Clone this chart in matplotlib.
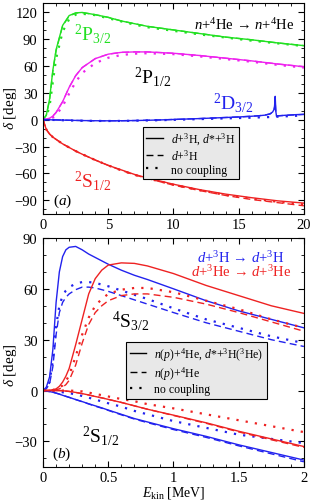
import matplotlib
matplotlib.use("Agg")
import matplotlib.pyplot as plt
from matplotlib.ticker import MultipleLocator
from matplotlib.lines import Line2D

plt.rcParams['font.family'] = ['Liberation Serif', 'DejaVu Serif']
plt.rcParams['mathtext.fontset'] = 'custom'
plt.rcParams['mathtext.rm'] = 'Liberation Serif'
plt.rcParams['mathtext.it'] = 'Liberation Serif:italic'
plt.rcParams['mathtext.bf'] = 'Liberation Serif:bold'
plt.rcParams['mathtext.fallback'] = 'stix'

# ---------------- Panel (a): n+4He ----------------
E_a = [0, 0.25, 0.5, 0.75, 1, 1.5, 2, 2.5, 3, 4, 5, 6, 7, 8, 10, 12, 14, 16, 18, 20]
p32_full = [0, 5, 23, 55, 78, 105, 116, 119, 119.5, 117, 114, 110, 107, 104, 100, 96, 92, 89, 85.5, 82.5]
p32_dash = [0, 5, 22, 54, 77, 104.5, 115.5, 118.8, 119.3, 117, 114, 110, 107, 104, 100, 96, 92, 89, 85.5, 82.5]
p32_none = [0, 3, 15, 42, 68, 98, 112, 117, 118, 116.5, 113, 109.5, 106, 103, 99, 95, 91.5, 88, 85, 82]
p12_full = [0, 0.5, 1.5, 4, 8, 20, 36, 49, 58, 68, 73, 75, 75.5, 75.5, 74, 71.5, 68.5, 65.5, 62, 59]
p12_dash = [0, 0.5, 1.5, 4, 8, 20, 36, 49, 58, 68, 73, 75, 75.5, 75.5, 74, 71.5, 68.5, 65.5, 62, 59]
p12_none = [0, 0.3, 1, 2.5, 5, 15, 29, 42, 52, 63, 69, 72, 73.5, 74, 73, 70.5, 67.5, 64.5, 61, 58]
s12_full = [0, -11, -16, -19.5, -22, -27, -31, -35, -38.5, -45, -51, -56, -61, -65, -72, -78, -83, -87, -90.5, -93]
s12_dash = [0, -11, -16, -19.5, -22, -27, -31, -35, -38.5, -45, -51, -56.5, -61.5, -65.5, -73, -79, -84.5, -89, -92.5, -96]
s12_none = [0, -11, -16, -19.5, -22, -27, -31, -35, -38.5, -45, -51, -56.5, -61.5, -65.5, -72.5, -78.5, -84, -88, -91.5, -94.5]

E_d = [0, 1, 2, 3, 4, 5, 6, 7, 8, 9, 10, 11, 12, 13, 14, 15, 16, 16.5, 17, 17.4, 17.6, 17.7, 17.75, 17.8, 17.85, 17.9, 18.0, 18.3, 19, 20]
d32_full = [0, -0.3, -0.7, -1.0, -1.2, -1.3, -1.2, -1.0, -0.7, -0.3, 0.2, 0.7, 1.2, 1.8, 2.4, 3.0, 3.8, 4.3, 5.0, 6.5, 8.5, 11, 15, 26, 9, 4.0, 4.3, 4.6, 5.3, 6.0]
d32_dash = [0, -0.3, -0.7, -1.0, -1.2, -1.3, -1.2, -1.0, -0.7, -0.3, 0.2, 0.7, 1.2, 1.8, 2.4, 3.0, 3.8, 4.3, 5.0, 6.3, 8.0, 10, 13, 20, 8, 4.0, 4.2, 4.5, 5.1, 5.8]
d32_none = [0, -0.4, -0.9, -1.2, -1.4, -1.5, -1.4, -1.2, -0.9, -0.6, -0.2, 0.2, 0.6, 1.0, 1.4, 1.8, 2.2, 2.5, 2.7, 2.9, 3.0, 3.0, 3.1, 3.1, 3.1, 3.2, 3.3, 3.5, 4.0, 4.8]

# ---------------- Panel (b): d+3H / d+3He ----------------
E_b = [0, 0.025, 0.05, 0.075, 0.1, 0.125, 0.15, 0.175, 0.2, 0.25, 0.3, 0.35, 0.4, 0.45, 0.5,
       0.6, 0.7, 0.8, 1.0, 1.25, 1.5, 1.75, 2.0]
t_s32_full = [0, 2, 8, 24, 52, 70, 79, 83, 84.5, 85, 83, 80.5, 78.5, 76.5, 74.5, 71, 68, 65.5, 60, 53, 47, 42, 37]
t_s32_dash = [0, 1, 4, 14, 33, 46, 52, 55, 57, 59.5, 61, 61, 60.5, 59.5, 58.5, 56, 53.5, 51, 46, 40, 35, 30, 26]
t_s32_none = [0, 1, 5, 18, 38, 50, 56, 59, 61, 63, 64, 64, 63.5, 62.5, 61.5, 59, 56.5, 54, 48.5, 42, 37, 32, 28]
h_s32_full = [0, 0, 0.2, 0.5, 1, 2.5, 5, 8.5, 13, 27, 42, 57, 66, 71, 74, 75.3, 75, 73.5, 69, 62, 56, 50, 45.5]
h_s32_dash = [0, 0, 0.1, 0.2, 0.5, 1, 2, 3.5, 6, 15, 28, 39, 46, 50, 53, 56, 57, 57, 55, 51, 46, 40.5, 35]
h_s32_none = [0, 0, 0.1, 0.3, 1, 1.8, 3, 5.5, 9, 20, 33, 43, 50, 54, 57, 59.5, 60.5, 60.5, 58, 53, 48, 42, 37]
t_s12_full = [0, -0.3, -0.6, -1.0, -1.5, -2.1, -2.8, -3.4, -4, -5.3, -6.5, -7.8, -9, -10.2, -11.5, -14, -16.5, -18.5, -22.5, -27, -32, -36.5, -41]
t_s12_dash = [0, -0.3, -0.6, -1.0, -1.5, -2.1, -2.8, -3.4, -4, -5.3, -6.6, -7.9, -9.2, -10.4, -11.7, -14.3, -16.8, -18.9, -23, -27.6, -32.6, -37.3, -42]
t_s12_none = [0, -0.1, -0.2, -0.3, -0.5, -0.8, -1.0, -1.2, -1.5, -2.3, -3.2, -4.2, -5.3, -6.4, -7.5, -9.5, -12, -14, -18, -22, -26, -28.5, -31]
h_s12_full = [0, 0, 0, 0, 0, 0, -0.1, -0.3, -0.5, -1.1, -1.8, -2.6, -3.5, -4.3, -5.2, -7, -9, -11, -14.5, -19, -24, -28.5, -33]
h_s12_dash = [0, 0, 0, 0, 0, 0, -0.1, -0.3, -0.5, -1.1, -1.8, -2.6, -3.5, -4.3, -5.2, -7, -9, -11, -14.7, -19.3, -24.4, -29, -33.5]
h_s12_none = [0, 0, 0, 0, 0, 0, 0, 0, 0, -0.2, -0.5, -1.2, -2, -2.7, -3.5, -5, -6.3, -8, -10.5, -14, -17.5, -21, -24.5]

legend_a = [r'$d$+$^3$H, $d$*+$^3$H', r'$d$+$^3$H', 'no coupling']
legend_b = [r'$n$($p$)+$^4$He, $d$*+$^3$H($^3$He)', r'$n$($p$)+$^4$He', 'no coupling']

GREEN = '#22e022'
MAGENTA = '#ee22ee'
BLUE = '#2222ee'
RED = '#ee2222'

SOLID = '-'
DASH = (0, (5, 3))
DOT = (0, (1, 3.2))
LW = 1.0
LWD = 1.6

fig = plt.figure(figsize=(3.12, 5.02), dpi=100)
ax1 = fig.add_axes([0.138, 0.572, 0.836, 0.420])
ax2 = fig.add_axes([0.138, 0.068, 0.836, 0.456])

def style_axes(ax):
    ax.tick_params(which='both', direction='in', top=True, right=True, labelsize=10.5)
    ax.tick_params(axis='y', pad=4)
    ax.tick_params(axis='x', pad=3)
    ax.tick_params(which='major', length=4, width=0.8)
    ax.tick_params(which='minor', length=2, width=0.6)
    for s in ax.spines.values():
        s.set_linewidth(0.8)

# Panel (a)
for full, dash, none, c in [(p32_full, p32_dash, p32_none, GREEN),
                            (p12_full, p12_dash, p12_none, MAGENTA),
                            (s12_full, s12_dash, s12_none, RED)]:
    ax1.plot(E_a, none, color=c, ls=DOT, lw=LWD)
    ax1.plot(E_a, dash, color=c, ls=DASH, lw=LW)
    ax1.plot(E_a, full, color=c, ls=SOLID, lw=LW)
ax1.plot(E_d, d32_none, color=BLUE, ls=DOT, lw=LWD)
ax1.plot(E_d, d32_dash, color=BLUE, ls=DASH, lw=LW)
ax1.plot(E_d, d32_full, color=BLUE, ls=SOLID, lw=LW)

ax1.set_xlim(0, 20)
ax1.set_ylim(-105, 130)
ax1.xaxis.set_major_locator(MultipleLocator(5))
ax1.xaxis.set_minor_locator(MultipleLocator(1))
ax1.yaxis.set_major_locator(MultipleLocator(30))
ax1.yaxis.set_minor_locator(MultipleLocator(10))
style_axes(ax1)

ax1.text(2.4, 90, r'$^2$P$_{3/2}$', color=GREEN, fontsize=14)
ax1.text(7.0, 42, r'$^2$P$_{1/2}$', color='black', fontsize=14)
ax1.text(13.0, 13, r'$^2$D$_{3/2}$', color=BLUE, fontsize=14)
ax1.text(2.4, -74, r'$^2$S$_{1/2}$', color=RED, fontsize=14)
ax1.text(19.3, 107, r'$n$+$^4$He$\,\rightarrow\,$$n$+$^4$He', fontsize=10.5, ha='right', va='center')
ax1.text(0.75, -94, r'$(a)$', fontsize=11)

def make_handles():
    return [Line2D([], [], color='black', ls=SOLID, lw=LW),
            Line2D([], [], color='black', ls=DASH, lw=LW),
            Line2D([], [], color='black', ls=DOT, lw=LWD)]

leg_kw = dict(loc='upper left', frameon=True, fancybox=False, edgecolor='black',
              facecolor='#e8e8e8', framealpha=1, handlelength=1.4, handletextpad=0.7,
              borderpad=0.3, labelspacing=0.1, borderaxespad=0)

leg1 = ax1.legend(make_handles(), legend_a, bbox_to_anchor=(0.383, 0.412), fontsize=8.5, **leg_kw)
leg1.get_frame().set_linewidth(0.8)

# Panel (b)
for full, dash, none, c in [(t_s32_full, t_s32_dash, t_s32_none, BLUE),
                            (h_s32_full, h_s32_dash, h_s32_none, RED),
                            (t_s12_full, t_s12_dash, t_s12_none, BLUE),
                            (h_s12_full, h_s12_dash, h_s12_none, RED)]:
    ax2.plot(E_b, none, color=c, ls=DOT, lw=LWD)
    ax2.plot(E_b, dash, color=c, ls=DASH, lw=LW)
    ax2.plot(E_b, full, color=c, ls=SOLID, lw=LW)

ax2.set_xlim(0, 2)
ax2.set_ylim(-45, 90)
ax2.xaxis.set_minor_locator(MultipleLocator(0.1))
ax2.yaxis.set_major_locator(MultipleLocator(30))
ax2.yaxis.set_minor_locator(MultipleLocator(10))
ax2.set_xticks([0, 0.5, 1, 1.5, 2])
ax2.set_xticklabels(['0', '0.5', '1', '1.5', '2'])
style_axes(ax2)

ax2.text(1.85, 79, r'$d$+$^3$H$\,\rightarrow\,$$d$+$^3$H', color=BLUE, fontsize=10.5, ha='right', va='center')
ax2.text(1.9, 70.5, r'$d$+$^3$He$\,\rightarrow\,$$d$+$^3$He', color=RED, fontsize=10.5, ha='right', va='center')
ax2.text(0.53, 38, r'$^4$S$_{3/2}$', color='black', fontsize=14)
ax2.text(0.3, -30, r'$^2$S$_{1/2}$', color='black', fontsize=14)
ax2.text(0.07, -39, r'$(b)$', fontsize=11)

leg2 = ax2.legend(make_handles(), legend_b, bbox_to_anchor=(0.318, 0.546), fontsize=8.5, **leg_kw)
leg2.get_frame().set_linewidth(0.8)

ax2.set_xlabel(r'$E_{\rm kin}$ [MeV]', fontsize=10, labelpad=0)
fig.text(0.035, 0.785, r'$\delta$ [deg]', rotation=90, fontsize=11, ha='center', va='center')
fig.text(0.035, 0.272, r'$\delta$ [deg]', rotation=90, fontsize=11, ha='center', va='center')

fig.savefig('out.png', dpi=100)
